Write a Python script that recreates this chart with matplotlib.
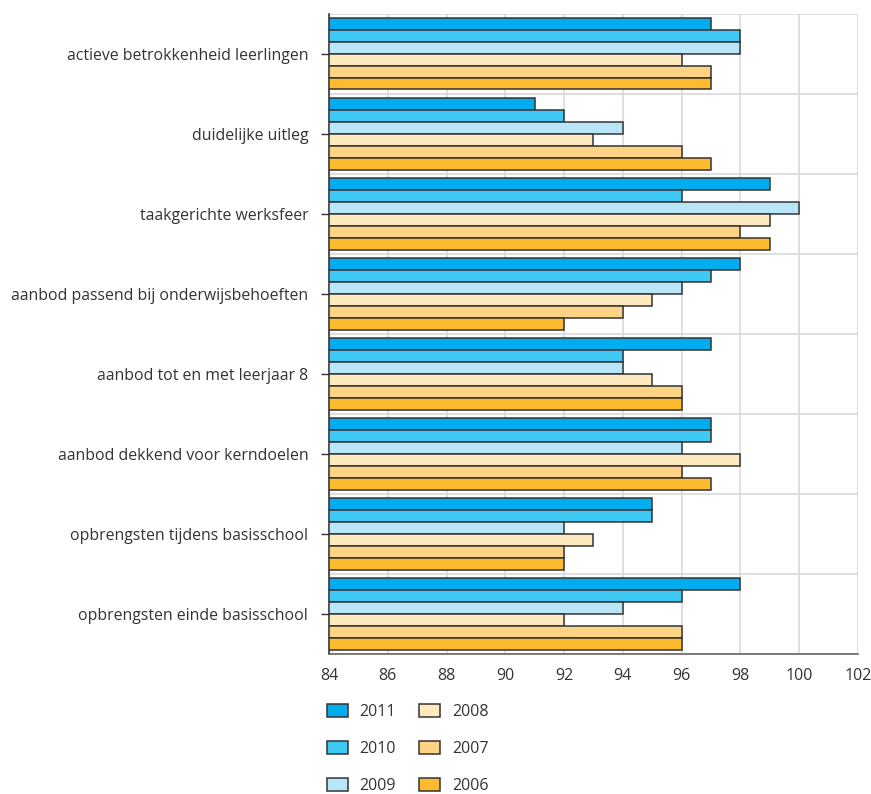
import matplotlib
matplotlib.use("Agg")
import matplotlib.pyplot as plt
import matplotlib.transforms as mtransforms
import numpy as np

plt.rcParams['font.family'] = ['Open Sans', 'DejaVu Sans']

categories = [
    "actieve betrokkenheid leerlingen",
    "duidelijke uitleg",
    "taakgerichte werksfeer",
    "aanbod passend bij onderwijsbehoeften",
    "aanbod tot en met leerjaar 8",
    "aanbod dekkend voor kerndoelen",
    "opbrengsten tijdens basisschool",
    "opbrengsten einde basisschool",
]
years = ["2011", "2010", "2009", "2008", "2007", "2006"]
v2011 = [97, 91, 99, 98, 97, 97, 95, 98]
v2010 = [98, 92, 96, 97, 94, 97, 95, 96]
v2009 = [98, 94, 100, 96, 94, 96, 92, 94]
v2008 = [96, 93, 99, 95, 95, 98, 93, 92]
v2007 = [97, 96, 98, 94, 96, 96, 92, 96]
v2006 = [97, 97, 99, 92, 96, 97, 92, 96]
series = [v2011, v2010, v2009, v2008, v2007, v2006]
colors = ["#00AEEF", "#40C8F4", "#B9E5F8", "#FFE9BF", "#FFD386", "#FDBB30"]
xticks = [84, 86, 88, 90, 92, 94, 96, 98, 100, 102]

fig = plt.figure(figsize=(8.71, 7.94), dpi=100)
ax = fig.add_axes([0.3777, 0.1763, 0.985 - 0.3777, 0.9824 - 0.1763])

n = len(categories)
centers = np.arange(n)
bh = 0.148
text_col = "#333333"
handles = []
for i, (vals, c, yr) in enumerate(zip(series, colors, years)):
    offs = (i - 2.5) * bh
    b = ax.barh(centers + offs, [v - 84 for v in vals], left=84, height=bh,
                color=c, edgecolor="#333333", linewidth=1.1, label=yr, zorder=3)
    handles.append(b)

ax.set_xlim(84, 102)
ax.set_ylim(n - 0.5, -0.5)
ax.set_xticks(xticks)
ax.set_xticklabels([str(t) for t in xticks], fontsize=11.5, color=text_col)
ax.set_yticks(centers)
ax.set_yticklabels(categories, fontsize=11.4, color=text_col)
shift = mtransforms.ScaledTranslation(0, 4 / 100, fig.dpi_scale_trans)
for lab in ax.get_yticklabels():
    lab.set_transform(lab.get_transform() + shift)
ax.set_yticks(np.arange(-0.5, n, 1.0), minor=True)
ax.tick_params(axis='y', which='major', length=6, width=1, color="#333333", pad=9)
ax.tick_params(axis='y', which='minor', length=0)
ax.tick_params(axis='x', which='major', length=0, pad=10)
ax.grid(axis='x', which='major', color="#D9D9D9", linewidth=1.2, zorder=0)
ax.grid(axis='y', which='minor', color="#D9D9D9", linewidth=1.2, zorder=0)
ax.set_axisbelow(True)
for s in ['top', 'right']:
    ax.spines[s].set_visible(False)
ax.spines['left'].set_color("#333333")
ax.spines['left'].set_linewidth(1.2)
ax.spines['bottom'].set_color("#666666")
ax.spines['bottom'].set_linewidth(1.2)

fig.legend(handles=handles, labels=years, loc='upper left',
           bbox_to_anchor=(0.368, 0.121), ncol=2, frameon=False,
           fontsize=11.5, labelspacing=1.3, columnspacing=1.45,
           handlelength=1.3, handleheight=0.85, handletextpad=0.75,
           labelcolor=text_col, borderaxespad=0.0)

fig.savefig("out.png", dpi=100)
